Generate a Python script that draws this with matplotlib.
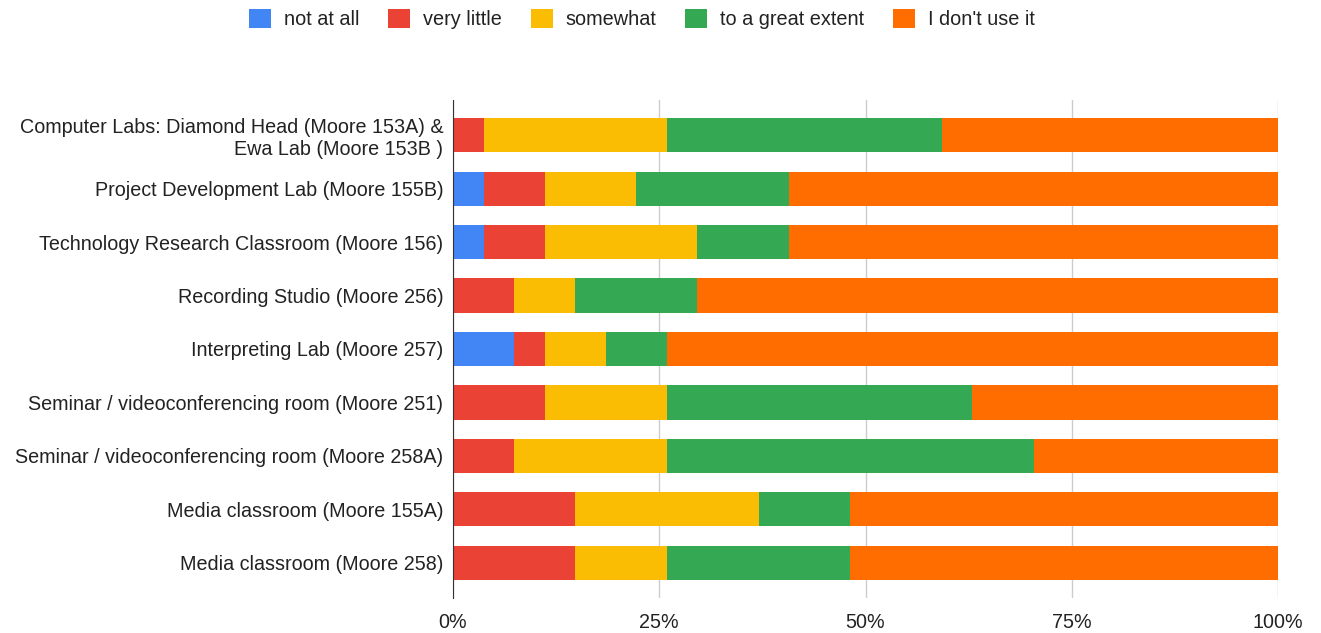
import matplotlib.pyplot as plt
import numpy as np

plt.rcParams['font.family'] = ['Liberation Sans', 'DejaVu Sans']

rooms = ["Computer Labs: Diamond Head (Moore 153A) &\nEwa Lab (Moore 153B )",
         "Project Development Lab (Moore 155B)",
         "Technology Research Classroom (Moore 156)",
         "Recording Studio (Moore 256)",
         "Interpreting Lab (Moore 257)",
         "Seminar / videoconferencing room (Moore 251)",
         "Seminar / videoconferencing room (Moore 258A)",
         "Media classroom (Moore 155A)",
         "Media classroom (Moore 258)"]

answers = ["not at all", "very little", "somewhat", "to a great extent", "I don't use it"]

# response counts per room (27 respondents)
not_at_all = [0, 1, 1, 0, 2, 0, 0, 0, 0]
very_little = [1, 2, 2, 2, 1, 3, 2, 4, 4]
somewhat = [6, 3, 5, 2, 2, 4, 5, 6, 3]
great_extent = [9, 5, 3, 4, 2, 10, 12, 3, 6]
dont_use = [11, 16, 16, 19, 20, 10, 8, 14, 14]

colors = ["#4285F4", "#EA4335", "#FBBC04", "#34A853", "#FF6D01"]

counts = np.array([not_at_all, very_little, somewhat, great_extent, dont_use], dtype=float)
shares = counts / counts.sum(axis=0)

fig = plt.figure(figsize=(13.21, 6.33), dpi=100)
ax = fig.add_axes([453/1321, 1-598/633, 825/1321, 498/633])

y = np.arange(len(rooms))
left = np.zeros(len(rooms))
for i in range(len(answers)):
    ax.barh(y, shares[i], left=left, height=0.64, color=colors[i],
            label=answers[i], zorder=3)
    left += shares[i]

ax.set_ylim(len(rooms) - 1 + 0.66, -0.66)
ax.set_xlim(0, 1)
ax.set_xticks([0, 0.25, 0.5, 0.75, 1])
ax.set_xticklabels(["0%", "25%", "50%", "75%", "100%"])
ax.set_yticks(y)
ax.set_yticklabels(rooms)
ax.tick_params(axis='both', length=0, labelsize=14.2, colors="#222222")
ax.tick_params(axis='x', pad=11)
ax.tick_params(axis='y', pad=7)
ax.xaxis.grid(True, color="#cccccc", lw=1, zorder=0)
for s in ["top", "right", "bottom"]:
    ax.spines[s].set_visible(False)
ax.spines["left"].set_color("#333333")
ax.spines["left"].set_zorder(4)

fig.legend(loc="center", bbox_to_anchor=(0.486, 0.970), ncol=5, frameon=False,
           fontsize=14.3, handlelength=1.1, handleheight=1.1, handletextpad=0.65,
           columnspacing=1.45, labelcolor="#222222")

fig.savefig("out.png", dpi=100)
